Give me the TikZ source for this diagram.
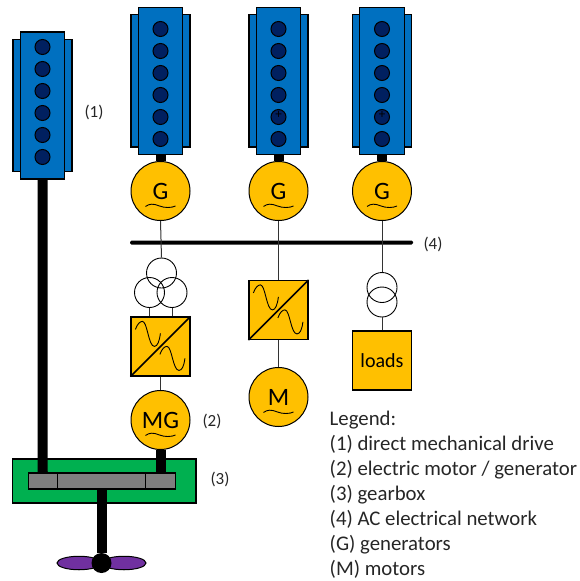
\documentclass[tikz,border=0pt]{standalone}
\usepackage{fontspec}
\setmainfont{Carlito}
\usetikzlibrary{shapes.geometric}
\definecolor{engineBlue}{HTML}{0070C0}
\definecolor{cylinderBlue}{HTML}{002060}
\definecolor{machineGold}{HTML}{FFC000}
\definecolor{gearGreen}{HTML}{00B050}
\definecolor{barGrey}{HTML}{7F7F7F}
\definecolor{propPurple}{HTML}{7030A0}
\definecolor{labelGrey}{HTML}{262626}
\tikzstyle{engineSide} = [rectangle, minimum width=59pt, minimum height=132.5pt, inner sep=0pt, draw=black, line width=1.2pt, fill=engineBlue]
\tikzstyle{engineBody} = [rectangle, minimum width=44.5pt, minimum height=147pt, inner sep=0pt, draw=black, line width=1.2pt, fill=engineBlue]
\tikzstyle{cylinder} = [circle, minimum size=15pt, inner sep=0pt, draw=black, line width=1pt, fill=cylinderBlue]
\tikzstyle{machine} = [circle, minimum size=59pt, inner sep=0pt, draw=black, line width=1pt, fill=machineGold, font=\fontsize{25}{25}\selectfont]
\tikzstyle{converter} = [rectangle, minimum size=59pt, inner sep=0pt, draw=black, line width=1.2pt, fill=machineGold]
\tikzstyle{winding} = [circle, minimum size=30pt, inner sep=0pt, draw=black, line width=0.9pt]
\tikzstyle{barPart} = [rectangle, minimum height=16pt, inner sep=0pt, draw=black, line width=1.4pt, fill=barGrey]
\tikzstyle{blade} = [ellipse, minimum width=44pt, minimum height=13.5pt, inner sep=0pt, draw=black, line width=1pt, fill=propPurple]
\tikzstyle{tag} = [inner sep=0pt, text=labelGrey, font=\fontsize{17}{20}\selectfont]
\tikzstyle{shaft} = [line width=10pt, black]
\tikzstyle{wire} = [line width=1pt, black!80]
\tikzstyle{wave} = [line width=0.9pt, black]
\begin{document}
\begin{tikzpicture}[x=1pt, y=-1pt, node distance=110.25pt]
\useasboundingbox (0,0) rectangle (580,581);

\foreach \name/\xpos/\ypos/\cyltop in {A/42.5/105.5/47, B/160.5/80.75/29, C/278.5/80.75/29, D/382/80.75/29}{
  \node (engineSide\name) [engineSide] at (\xpos,\ypos) {};
  \node (engine\name) [engineBody] at (\xpos,\ypos) {};
  \foreach \i/\yoff in {1/0, 2/22, 3/44, 4/66, 5/88, 6/110}
    \node (cyl\name\i) [cylinder] at (\xpos,\cyltop+\yoff) {};
}
\node (plusC) [inner sep=0pt, font=\fontsize{13}{13}\selectfont] at (278.5,114.5) {+};
\node (plusD) [inner sep=0pt, font=\fontsize{13}{13}\selectfont] at (382,114.5) {+};

\node (genB) [machine, below of=engineB] {G};
\node (genC) [machine, below of=engineC] {G};
\node (genD) [machine, below of=engineD] {G};
\node (busLine) [rectangle, rounded corners=1.5pt, minimum width=283pt, minimum height=4pt, inner sep=0pt, fill=black] at (271.5,242.5) {};

\node (trafoTop) [winding] at (161.5,273) {};
\node (trafoLeft) [winding] at (149.5,292.5) {};
\node (trafoRight) [winding] at (172,292.5) {};
\node (convA) [converter] at (160.5,346.5) {};
\node (motorGen) [machine, below of=convA, node distance=73.5pt] {MG};

\node (convB) [converter] at (278.5,310) {};
\node (motor) [machine, below of=convB, node distance=87pt] {M};

\node (trafoUp) [winding] at (382,287.5) {};
\node (trafoDown) [winding] at (382,302) {};
\node (loads) [rectangle, minimum size=59pt, inner sep=0pt, draw=black, line width=1.2pt, fill=machineGold, font=\fontsize{20}{20}\selectfont] at (382,360.5) {loads};

\node (gearbox) [rectangle, minimum width=183.5pt, minimum height=44pt, inner sep=0pt, draw=black, line width=1.2pt, fill=gearGreen] at (104.25,481) {};
\node (barLeft) [barPart, minimum width=29pt] at (42.75,481) {};
\node (barMid) [barPart, minimum width=88.5pt] at (101.5,481) {};
\node (barRight) [barPart, minimum width=29.5pt] at (160.5,481) {};

\node (bladeLeft) [blade] at (79,563) {};
\node (bladeRight) [blade] at (124,563) {};
\node (hub) [circle, minimum size=20pt, inner sep=0pt, fill=black] at (101.5,563) {};

\draw [shaft] (engineA.south) -- (barLeft.north);
\draw [shaft] (engineB.south) -- (genB.north);
\draw [shaft] (engineC.south) -- (genC.north);
\draw [shaft] (engineD.south) -- (genD.north);
\draw [shaft] (motorGen.south) -- (barRight.north);
\draw [shaft] (barMid.south) -- (hub.north);

\draw [wire] (genB.south) -- (trafoTop.north);
\draw [wire] (genC.south) -- (convB.north);
\draw [wire] (genD.south) -- (trafoUp.north);
\draw [wire] (trafoLeft.south) -- (trafoLeft.south |- convA.north);
\draw [wire] (trafoRight.south) -- (trafoRight.south |- convA.north);
\draw [wire] (convA.south) -- (motorGen.north);
\draw [wire] (convB.south) -- (motor.north);
\draw [wire] (trafoDown.south) -- (loads.north);

\foreach \conv in {convA, convB}{
  \draw [line width=1.6pt] (\conv.south west) -- (\conv.north east);
  \begin{scope}[shift={(\conv.north west)}]
  \draw [wave] (5,13) .. controls (7,7) and (10,5) .. (12,5) .. controls (17,5) and (18,30) .. (24,30) .. controls (27,30) and (29,25) .. (30,17);
  \draw [wave] (29.5,38) .. controls (31.5,32) and (34.5,30) .. (36.5,30) .. controls (41.5,30) and (42.5,54) .. (48.5,54) .. controls (51.5,54) and (53.5,50) .. (54.5,42);
  \end{scope}
}

\foreach \mach in {genB, genC, genD, motorGen, motor}{
  \begin{scope}[shift={(\mach.center)}]
  \draw [wave] (-15,15.5) .. controls (-11,12.5) and (-7,12.5) .. (-1,15) .. controls (4,17) and (11,17) .. (15,15);
  \end{scope}
}

\node (tagOne) [tag] at (94,112.5) {(1)};
\node (tagTwo) [tag] at (212,421.5) {(2)};
\node (tagThree) [tag] at (220,479.5) {(3)};
\node (tagFour) [tag] at (433,244.5) {(4)};

\node (legend) [inner sep=0pt, anchor=north west, align=left, text=labelGrey, font=\fontsize{20.8}{25}\selectfont] at (329.5,411) {Legend:\\(1) direct mechanical drive\\(2) electric motor / generator\\(3) gearbox\\(4) AC electrical network\\(G) generators\\(M) motors};

\end{tikzpicture}
\end{document}
